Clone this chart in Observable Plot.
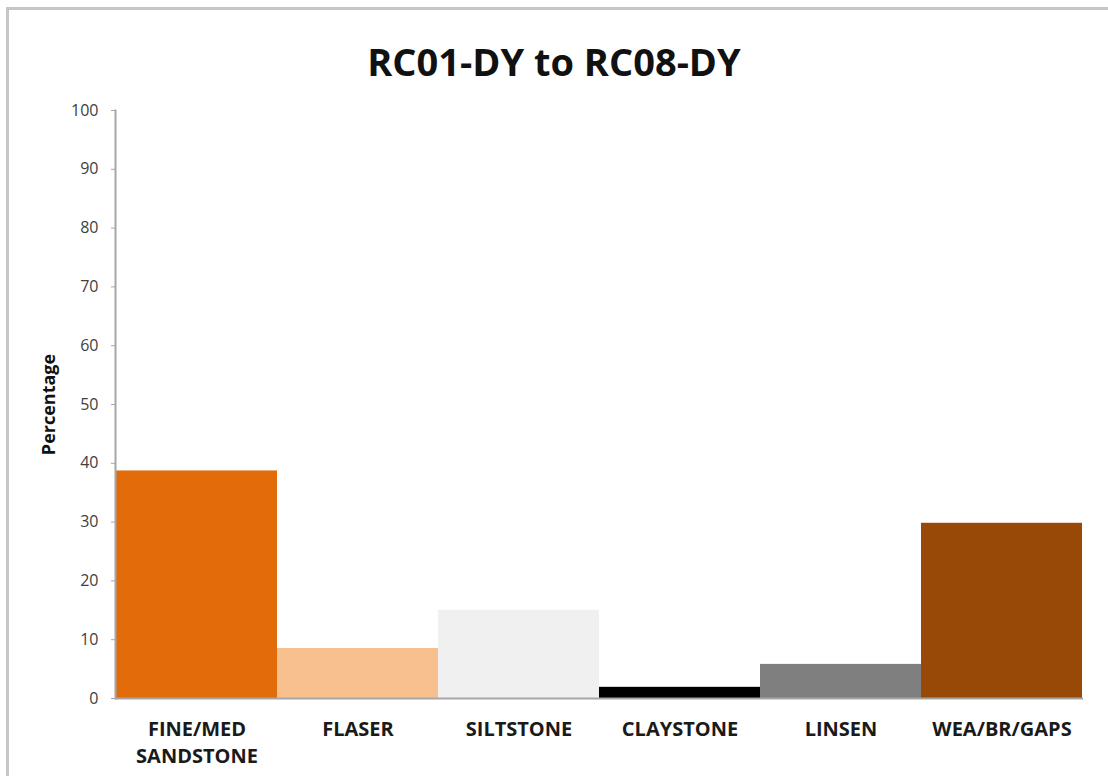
<!DOCTYPE html>
<html>
<head>
<meta charset="utf-8">
<script src="https://cdn.jsdelivr.net/npm/d3@7"></script>
<script src="https://cdn.jsdelivr.net/npm/@observablehq/plot@0.6"></script>
<style>
  html, body { margin: 0; padding: 0; background: #fff; }
  #wrap { position: relative; width: 1108px; height: 776px; overflow: hidden; font-family: "Open Sans", sans-serif; }
  #frame { position: absolute; left: 6px; top: 7px; width: 1120px; height: 800px;
           border-top: 3px solid #c6c6c6; border-left: 3px solid #c6c6c6; box-sizing: border-box; }
  #title { position: absolute; left: 0; top: 36px; width: 1108px; text-align: center;
           font-size: 38px; line-height: 50px; font-weight: 700; color: #111; }
  #chart { position: absolute; left: 0; top: 100px; }
</style>
</head>
<body>
<div id="wrap">
  <div id="frame"></div>
  <div id="title">RC01-DY to RC08-DY</div>
  <div id="chart"></div>
</div>
<script>
const categories = ["FINE/MED SANDSTONE", "FLASER", "SILTSTONE", "CLAYSTONE", "LINSEN", "WEA/BR/GAPS"];
const values = [38.7, 8.5, 15.0, 1.9, 5.8, 29.8];
const colors = ["#E36C0A", "#F9C08F", "#F0F0F0", "#000000", "#7F7F7F", "#984807"];
const yTicks = [0, 10, 20, 30, 40, 50, 60, 70, 80, 90, 100];
const yLabel = "Percentage";

const data = categories.map((c, i) => ({category: c, value: values[i]}));

const chart = Plot.plot({
  width: 1108,
  height: 676,
  marginTop: 10,
  marginBottom: 78,
  marginLeft: 115,
  marginRight: 25,
  style: {fontFamily: "'Open Sans', sans-serif", background: "transparent"},
  x: {type: "band", domain: categories, padding: 0},
  y: {domain: [0, 100]},
  color: {type: "ordinal", domain: categories, range: colors},
  marks: [
    Plot.barY(data, {x: "category", y: "value", fill: "category"}),
    Plot.ruleY([0], {stroke: "#a6a6a6", strokeWidth: 2}),
    Plot.frame({anchor: "left", stroke: "#a6a6a6", strokeWidth: 2}),
    Plot.axisY({ticks: yTicks, tickSize: 4, tickPadding: 13, fontSize: 16, stroke: "#a6a6a6", fill: "#404040", label: null}),
    Plot.axisX({tickSize: 0, tickPadding: 19, fontSize: 20, fontWeight: "bold", fill: "#1a1a1a", lineHeight: 1.325,
                tickFormat: d => d.replace(" ", "\n"), label: null}),
    Plot.text([yLabel], {text: d => d, frameAnchor: "left", textAnchor: "middle", lineAnchor: "middle", rotate: -90, dx: -66,
                         fontSize: 18, fontWeight: "bold", fill: "#111"})
  ]
});
document.getElementById("chart").appendChild(chart);
</script>
</body>
</html>
